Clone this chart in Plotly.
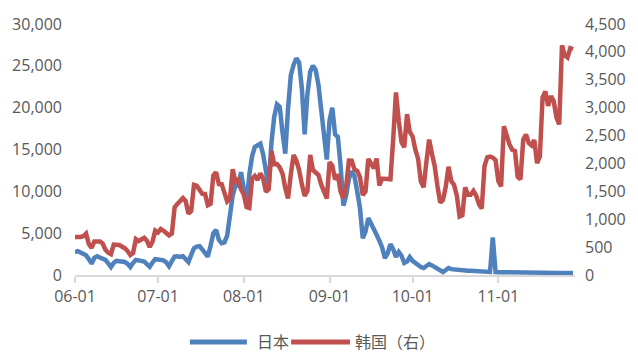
import pandas as pd
import plotly.graph_objects as go

# Daily new COVID-19 cases, 2021-06-01 .. 2021-11-28
dates = pd.date_range("2021-06-01", "2021-11-28", freq="D")

japan = [
    2750, 2850, 2700, 2500, 2350, 1900, 1350,
    2050, 2250, 2100, 1950, 1800, 1400, 950,
    1450, 1700, 1650, 1600, 1550, 1350, 950,
    1450, 1800, 1750, 1700, 1600, 1300, 980,
    1500, 1900, 1850, 1800, 1750, 1500, 1050,
    1650, 2200, 2250, 2150, 2250, 1950, 1550,
    2400, 3200, 3400, 3450, 3050, 2600, 2200,
    3500, 5000, 5400, 4200, 3800, 3900, 4700,
    7600, 9500, 10700, 10700, 12300, 10100, 8400,
    12000, 14200, 15300, 15500, 15700, 14400, 12000,
    10500, 15800, 18900, 20400, 20100, 17000, 14500,
    19900, 23900, 25100, 25900, 25400, 22300, 16800,
    21600, 24300, 25000, 24500, 22700, 19700, 16500,
    13800, 18500, 20000, 16800, 16500, 13000, 8300,
    9500, 11500, 12400, 11800, 10000, 8000, 4400,
    5200, 6800, 6200, 5400, 4800, 4100, 3300,
    2000, 2600, 3700, 3100, 2150, 2750, 2300,
    1450, 1600, 2150, 1700, 1400, 1150, 950,
    840, 1100, 1310, 1150, 960, 800, 550,
    360, 600, 840, 700, 650, 620, 600,
    580, 550, 520, 500, 480, 470, 460,
    430, 400, 380, 360, 4500, 340, 330,
    320, 310, 300, 300, 290, 290, 280,
    280, 280, 270, 270, 270, 260, 260,
    260, 260, 250, 250, 250, 250, 250,
    250, 250, 250, 250, 250, 250,
]

korea = [
    680, 677, 681, 695, 744, 556, 485,
    602, 611, 602, 565, 452, 399, 373,
    545, 540, 540, 507, 482, 429, 357,
    395, 645, 610, 634, 668, 614, 501,
    595, 794, 762, 826, 794, 743, 711,
    746, 1212, 1275, 1316, 1378, 1324, 1100,
    1150, 1615, 1600, 1536, 1455, 1454, 1252,
    1278, 1784, 1842, 1630, 1629, 1487, 1318,
    1365, 1896, 1674, 1710, 1539, 1442, 1219,
    1202, 1725, 1776, 1704, 1823, 1729, 1492,
    1537, 2223, 1987, 1990, 1928, 1817, 1556,
    1372, 1805, 2152, 2050, 1882, 1626, 1418,
    1509, 2154, 1882, 1841, 1793, 1619, 1487,
    1372, 2025, 1961, 1709, 1804, 1490, 1375,
    1597, 2050, 2049, 1892, 1865, 1755, 1433,
    1497, 2080, 2008, 1910, 2087, 1605, 1729,
    1720, 1716, 1716, 2434, 3273, 2771, 2383,
    2289, 2885, 2564, 2486, 2248, 2085, 1673,
    1575, 2028, 2427, 2175, 1953, 1594, 1297,
    1347, 1584, 1940, 1684, 1616, 1420, 1050,
    1073, 1571, 1441, 1439, 1508, 1423, 1266,
    1190, 1952, 2111, 2124, 2104, 2061, 1686,
    1589, 2667, 2482, 2344, 2247, 2224, 1758,
    1715, 2425, 2520, 2368, 2324, 2419, 2006,
    2125, 3187, 3292, 3034, 3206, 3120, 2827,
    2699, 4116, 3938, 3899, 4068, 4050,
]

series_names = ["日本", "韩国（右）"]
colors = ["#4F81BD", "#C0504D"]
month_ticks = ["2021-06-01", "2021-07-01", "2021-08-01",
               "2021-09-01", "2021-10-01", "2021-11-01"]
left_ticks = list(range(0, 30001, 5000))
right_ticks = list(range(0, 4501, 500))

FONT = "Open Sans, Noto Sans CJK SC, sans-serif"
GREY = "#595959"
AXIS = "#D9D9D9"

fig = go.Figure()
fig.add_trace(go.Scatter(x=dates, y=japan, name=series_names[0], mode="lines",
                         line=dict(color=colors[0], width=4.5), yaxis="y"))
fig.add_trace(go.Scatter(x=dates, y=korea, name=series_names[1], mode="lines",
                         line=dict(color=colors[1], width=4.5), yaxis="y2"))

fig.update_layout(
    width=638, height=353,
    margin=dict(l=73, r=56, t=24, b=78),
    paper_bgcolor="white", plot_bgcolor="white",
    font=dict(family=FONT, size=16, color=GREY),
    showlegend=False,
    xaxis=dict(
        type="date",
        range=["2021-06-01", "2021-11-28 17:00"],
        tickvals=month_ticks, tickformat="%m-%d",
        showgrid=False, zeroline=False,
        showline=True, linecolor=AXIS, linewidth=1.5,
        ticks="outside", ticklen=6, tickcolor=AXIS, tickwidth=1.5,
    ),
    yaxis=dict(
        range=[0, 30000], tickvals=left_ticks, tickformat=",",
        showgrid=False, zeroline=False, showline=False,
        ticks="", ticklabelstandoff=12,
    ),
    yaxis2=dict(
        range=[0, 4500], tickvals=right_ticks, tickformat=",",
        overlaying="y", side="right",
        showgrid=False, zeroline=False, showline=False,
        ticks="", ticklabelstandoff=9,
    ),
)

# Legend drawn below the axis with long line keys
def px_x(px):
    return (px - 73) / 509.0

def px_y(py):
    return (275 - py) / 251.0

LEGEND_Y = 342
legend_items = [(190, 248, 256), (293, 353, 356)]
for (x0, x1, tx), name, color in zip(legend_items, series_names, colors):
    fig.add_shape(type="line", xref="paper", yref="paper",
                  x0=px_x(x0), x1=px_x(x1), y0=px_y(LEGEND_Y), y1=px_y(LEGEND_Y),
                  line=dict(color=color, width=5))
    fig.add_annotation(xref="paper", yref="paper", x=px_x(tx), y=px_y(LEGEND_Y),
                       text=name, showarrow=False, xanchor="left", yanchor="middle",
                       font=dict(family=FONT, size=16, color=GREY))

fig.write_html("out.html")
